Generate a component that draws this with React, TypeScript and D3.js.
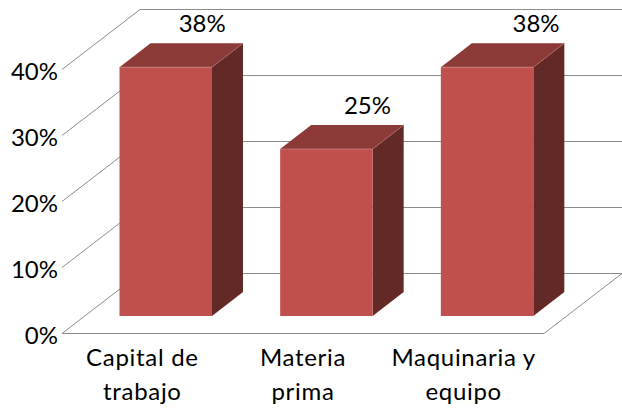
import React from 'react';
import * as d3 from 'd3';

const categories = [['Capital de', 'trabajo'], ['Materia', 'prima'], ['Maquinaria y', 'equipo']];
const values = [0.377, 0.253, 0.377];
const ticks = [0, 0.1, 0.2, 0.3, 0.4];
const labelNudge = [36.5, 41, 49];

const width = 622;
const height = 409;
const font = 'Lato, "Open Sans", sans-serif';
const gridColor = '#8c8c8c';

// wall depth and bar depth of the 3d box
const wallDx = 78;
const wallDy = -60;
const barDx = 31;
const barDy = -24;
const barInset = 57.5;
const barWidth = 92.5;
const barBase = 316;

const x = d3.scaleBand<number>().domain([0, 1, 2]).range([62, 544]);
const y = d3.scaleLinear().domain([0, 0.4]).range([333, 69]);
const barHeight = d3.scaleLinear().domain([0, 0.4]).range([0, 264]);
const pct = d3.format('.0%');

const points = (p: number[][]) => p.map(d => d.join(',')).join(' ');

export default function App() {
    return (
        <svg width={width} height={height} style={{ position: 'absolute', left: 0, top: 0, background: '#fff' }}>
            {ticks.map(t => {
                const fy = Math.round(y(t)) + 0.5;
                return (
                    <g key={t} fill="none" stroke={gridColor} strokeWidth={1}>
                        <line x1={62} y1={fy} x2={62 + wallDx} y2={fy + wallDy} />
                        <line x1={62 + wallDx} y1={fy + wallDy} x2={width} y2={fy + wallDy} />
                    </g>
                );
            })}
            <polyline
                points={points([[62, 333.5], [544, 333.5], [544 + wallDx, 333.5 + wallDy]])}
                fill="none"
                stroke={gridColor}
            />
            {values.map((v, i) => {
                const left = (x(i) as number) + barInset;
                const right = left + barWidth;
                const top = barBase - barHeight(v);
                return (
                    <g key={i}>
                        <polygon
                            points={points([[right, top], [right + barDx, top + barDy], [right + barDx, barBase + barDy], [right, barBase]])}
                            fill="#622927"
                        />
                        <polygon
                            points={points([[left, top], [left + barDx, top + barDy], [right + barDx, top + barDy], [right, top]])}
                            fill="#8c3a38"
                        />
                        <rect x={left} y={top} width={barWidth} height={barBase - top} fill="#c0504d" />
                        <line x1={left} y1={top} x2={right} y2={top} stroke="#d08a88" strokeWidth={0.7} />
                        <line x1={right} y1={top} x2={right + barDx} y2={top + barDy} stroke="#b06a68" strokeWidth={0.7} />
                        <text
                            x={left + barWidth / 2 + labelNudge[i]}
                            y={top - 35}
                            textAnchor="middle"
                            fontFamily={font}
                            fontSize={24}
                            fill="#000"
                        >
                            {pct(v)}
                        </text>
                    </g>
                );
            })}
            {ticks.map(t => (
                <text
                    key={t}
                    x={58}
                    y={y(t) + 10.5}
                    textAnchor="end"
                    fontFamily={font}
                    fontSize={24}
                    fill="#000"
                >
                    {pct(t)}
                </text>
            ))}
            {categories.map((lines, i) => (
                <text
                    key={i}
                    textAnchor="middle"
                    fontFamily={font}
                    fontSize={24}
                    letterSpacing={0.7}
                    fill="#000"
                >
                    {lines.map((s, j) => (
                        <tspan key={j} x={(x(i) as number) + x.bandwidth() / 2} y={366 + j * 34}>{s}</tspan>
                    ))}
                </text>
            ))}
        </svg>
    );
}
